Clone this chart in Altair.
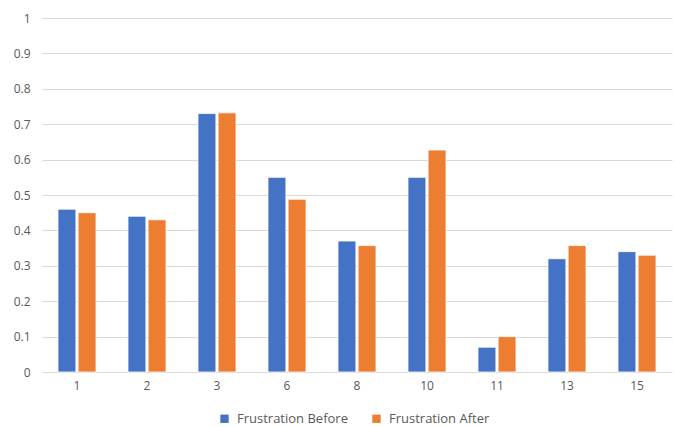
import altair as alt
import pandas as pd

# Frustration scores per participant, before and after
participants = ["1", "2", "3", "6", "8", "10", "11", "13", "15"]
frustration_before = [0.46, 0.44, 0.73, 0.55, 0.37, 0.55, 0.07, 0.32, 0.34]
frustration_after = [0.45, 0.43, 0.732, 0.488, 0.357, 0.627, 0.10, 0.357, 0.33]
series_names = ["Frustration Before", "Frustration After"]
y_ticks = [0, 0.1, 0.2, 0.3, 0.4, 0.5, 0.6, 0.7, 0.8, 0.9, 1]

rows = []
for p, b, a in zip(participants, frustration_before, frustration_after):
    rows.append({"participant": p, "series": series_names[0], "value": b})
    rows.append({"participant": p, "series": series_names[1], "value": a})
df = pd.DataFrame(rows)

FONT = "Open Sans"
GREY = "#595959"

chart = (
    alt.Chart(df)
    .mark_bar(stroke="white", strokeWidth=0.8)
    .encode(
        x=alt.X(
            "participant:N",
            sort=participants,
            title=None,
            scale=alt.Scale(paddingInner=0.457, paddingOuter=0.2285),
            axis=alt.Axis(
                labelAngle=0,
                domain=False,
                ticks=False,
                labelPadding=8,
                labelFontSize=12,
                labelColor=GREY,
                labelFont=FONT,
            ),
        ),
        xOffset=alt.XOffset(
            "series:N",
            sort=series_names,
            scale=alt.Scale(paddingInner=0.11, paddingOuter=0),
        ),
        y=alt.Y(
            "value:Q",
            title=None,
            scale=alt.Scale(domain=[0, 1], nice=False),
            axis=alt.Axis(
                values=y_ticks,
                format="~g",
                domain=False,
                ticks=False,
                labelPadding=12,
                labelFontSize=12,
                labelColor=GREY,
                labelFont=FONT,
                gridColor="#d9d9d9",
                gridWidth=1,
            ),
        ),
        color=alt.Color(
            "series:N",
            sort=series_names,
            scale=alt.Scale(domain=series_names, range=["#4472C4", "#ED7D31"]),
            legend=alt.Legend(
                title=None,
                orient="none",
                direction="horizontal",
                legendX=176,
                legendY=394,
                symbolType="square",
                symbolSize=70,
                symbolStrokeWidth=0,
                labelFontSize=13,
                labelColor=GREY,
                labelFont=FONT,
                labelOffset=6,
                columnPadding=22,
            ),
        ),
    )
    .properties(
        width=630,
        height=354,
        autosize=alt.AutoSizeParams(type="none"),
        padding={"left": 42, "top": 18, "right": 5, "bottom": 55},
        background="white",
    )
    .configure_view(stroke=None)
)

chart.save("out.html", embed_options={"renderer": "svg", "actions": False})
